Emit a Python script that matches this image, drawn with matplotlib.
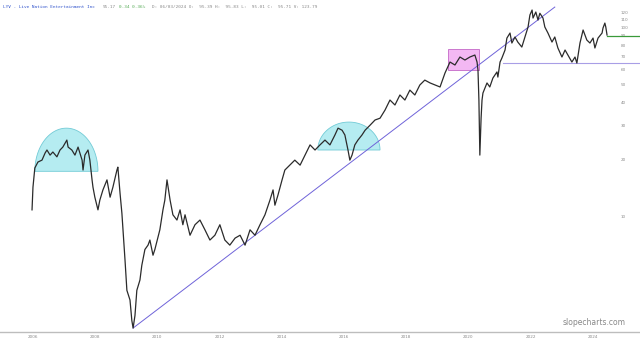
"""
LYV - Live Nation Entertainment, log price chart with trendline and highlight shapes
"""
import numpy as np
import matplotlib
matplotlib.use('Agg')
import matplotlib.pyplot as plt
from matplotlib.patches import Rectangle, Polygon

# ── data (decimal year, price) ──────────────────────────────────────────────
years = [2005.97, 2006.00, 2006.06, 2006.16, 2006.29, 2006.39, 2006.45, 2006.55, 2006.64,
         2006.77, 2006.87, 2006.96, 2007.09, 2007.13, 2007.25, 2007.35, 2007.45, 2007.58,
         2007.61, 2007.67, 2007.77, 2007.83, 2007.90, 2007.93, 2007.99, 2008.09, 2008.15,
         2008.25, 2008.38, 2008.48, 2008.57, 2008.70, 2008.73, 2008.80, 2008.86, 2008.96,
         2009.02, 2009.12, 2009.18, 2009.22, 2009.28, 2009.34, 2009.44, 2009.50, 2009.60,
         2009.70, 2009.76, 2009.86, 2009.92, 2010.08, 2010.18, 2010.24, 2010.31, 2010.41,
         2010.50, 2010.63, 2010.73, 2010.82, 2010.89, 2011.05, 2011.21, 2011.37, 2011.53,
         2011.69, 2011.85, 2012.01, 2012.17, 2012.33, 2012.50, 2012.66, 2012.82, 2012.98,
         2013.14, 2013.30, 2013.46, 2013.62, 2013.72, 2013.78, 2013.88, 2014.01, 2014.10,
         2014.26, 2014.42, 2014.59, 2014.75, 2014.91, 2015.07, 2015.23, 2015.39, 2015.55,
         2015.71, 2015.81, 2015.94, 2016.03, 2016.13, 2016.19, 2016.26, 2016.35, 2016.45,
         2016.58, 2016.68, 2016.84, 2017.00, 2017.16, 2017.32, 2017.48, 2017.64, 2017.80,
         2017.96, 2018.12, 2018.28, 2018.44, 2018.60, 2018.77, 2019.09, 2019.25, 2019.41,
         2019.57, 2019.73, 2019.89, 2020.05, 2020.21, 2020.28, 2020.31, 2020.34, 2020.37,
         2020.41, 2020.44, 2020.47, 2020.60, 2020.69, 2020.79, 2020.92, 2020.95, 2021.02,
         2021.08, 2021.18, 2021.24, 2021.34, 2021.40, 2021.50, 2021.59, 2021.72, 2021.82,
         2021.92, 2021.98, 2022.05, 2022.08, 2022.17, 2022.24, 2022.30, 2022.40, 2022.46,
         2022.56, 2022.69, 2022.78, 2022.88, 2023.01, 2023.11, 2023.20, 2023.33, 2023.43,
         2023.49, 2023.59, 2023.69, 2023.81, 2023.91, 2024.01, 2024.07, 2024.17, 2024.30,
         2024.33, 2024.39, 2024.42, 2024.46]
prices = [10.78, 14.20, 17.97, 19.32, 19.77, 21.56, 22.37, 21.02, 21.83,
          20.58, 22.37, 23.18, 25.25, 23.18, 22.37, 21.02, 23.18, 19.77,
          17.52, 21.02, 22.37, 19.77, 15.54, 14.20, 12.58, 10.78, 12.13,
          13.75, 15.54, 12.58, 14.20, 17.52, 18.15, 13.21, 10.33, 5.84,
          4.04, 3.59, 2.79, 2.55, 2.97, 4.04, 4.58, 5.48, 6.65,
          7.01, 7.46, 6.20, 6.65, 8.45, 10.78, 12.13, 15.54, 12.13,
          10.15, 9.52, 10.78, 8.99, 10.15, 7.91, 8.99, 9.52, 8.45,
          7.46, 7.91, 8.99, 7.46, 7.01, 7.64, 7.91, 7.01, 8.45,
          7.91, 8.99, 10.15, 12.13, 13.75, 11.41, 12.94, 15.54, 17.52,
          18.60, 19.77, 18.60, 21.02, 23.81, 22.37, 23.81, 25.25, 23.81,
          26.87, 29.20, 28.48, 26.87, 22.37, 19.77, 21.02, 23.81, 25.25,
          26.87, 28.48, 30.28, 32.26, 32.97, 36.39, 41.15, 38.73, 43.76,
          41.15, 46.45, 43.76, 49.42, 52.47, 50.68, 48.25, 57.24, 65.41,
          63.08, 69.54, 67.03, 69.54, 71.25, 65.41, 59.30, 41.15, 21.02,
          32.97, 41.15, 44.84, 50.68, 48.25, 53.82, 57.95, 54.45, 65.41,
          68.74, 75.74, 87.60, 93.17, 82.48, 88.77, 83.47, 78.53, 88.77,
          100.27, 116.09, 123.36, 111.86, 120.40, 109.17, 118.60, 111.86, 100.27,
          93.17, 83.47, 88.77, 77.63, 69.54, 75.74, 71.25, 65.41, 69.54,
          64.60, 82.48, 96.68, 85.54, 82.48, 87.60, 77.63, 87.60, 93.17,
          99.01, 105.21, 100.27, 90.93]

# trendline from the 2009 low, support line, last close
trend_years = [2009.22, 2022.78]
trend_prices = [2.55, 127.9]
support_start, support_price = 2021.11, 64.6
last_year, last_price = 2024.46, 90.0

# highlighted zones: (start year, end year, base price, top price)
domes = [(2006.06, 2008.09, 17.25, 29.2),
         (2015.16, 2017.16, 22.37, 31.45)]
box_zone = (2019.34, 2020.34, 59.3, 76.64)

tick_years = [2006, 2008, 2010, 2012, 2014, 2016, 2018, 2020, 2022, 2024]
price_ticks = [10, 20, 30, 40, 50, 60, 70, 80, 90, 100, 110, 120]

XMIN, XMAX = 2004.94, 2025.52
YMIN, YMAX = 2.43, 139.4

C_PRICE = '#2b2b2b'
C_TREND = '#6f63d9'
C_SUPPORT = '#a89ee6'
C_LAST = '#3a9a3a'
C_DOME_FILL = '#b5ecf1'
C_DOME_EDGE = '#72cbd6'
C_BOX_FILL = '#f3b8f3'
C_BOX_EDGE = '#c468c8'
C_TEXT = '#8a8a8a'

fig = plt.figure(figsize=(6.4, 3.43), dpi=100)
fig.patch.set_facecolor('white')
ax = fig.add_axes([0, 11 / 343, 1, 332 / 343])
ax.set_xlim(XMIN, XMAX)
ax.set_yscale('log')
ax.set_ylim(YMIN, YMAX)


def to_axes(year, price):
    fx = (year - XMIN) / (XMAX - XMIN)
    fy = (np.log(price) - np.log(YMIN)) / (np.log(YMAX) - np.log(YMIN))
    return fx, fy


# domes (half ellipses in screen space)
for y0, y1, pbase, ptop in domes:
    x0f, byf = to_axes(y0, pbase)
    x1f, tyf = to_axes(y1, ptop)
    cx, rx, ry = (x0f + x1f) / 2, (x1f - x0f) / 2, tyf - byf
    t = np.linspace(0, np.pi, 80)
    pts = np.column_stack([cx + rx * np.cos(t), byf + ry * np.sin(t)])
    ax.add_patch(Polygon(pts, closed=True, transform=ax.transAxes,
                         facecolor=C_DOME_FILL, edgecolor=C_DOME_EDGE, lw=0.6, zorder=1))

bx0, bx1, bp0, bp1 = box_zone
ax.add_patch(Rectangle((bx0, bp0), bx1 - bx0, bp1 - bp0,
                       facecolor=C_BOX_FILL, edgecolor=C_BOX_EDGE, lw=0.6, zorder=1))

ax.plot(trend_years, trend_prices, color=C_TREND, lw=0.7, zorder=2)
ax.plot([support_start, XMAX], [support_price, support_price], color=C_SUPPORT, lw=0.8, zorder=2)
ax.plot([last_year, XMAX], [last_price, last_price], color=C_LAST, lw=0.9, zorder=2)

ax.plot(years, prices, color=C_PRICE, lw=0.9, zorder=3)

# axes styling
for s in ['top', 'left', 'right']:
    ax.spines[s].set_visible(False)
ax.spines['bottom'].set_color('#bdbdbd')
ax.spines['bottom'].set_linewidth(1.0)

ax.set_xticks(tick_years)
ax.set_xticklabels([str(y) for y in tick_years])
ax.tick_params(axis='x', length=0, pad=2, labelsize=3, labelcolor=C_TEXT)

ax.yaxis.tick_right()
ax.set_yticks(price_ticks)
ax.set_yticklabels([str(p) for p in price_ticks])
ax.yaxis.set_minor_locator(matplotlib.ticker.NullLocator())
ax.tick_params(axis='y', length=0, pad=-14, labelsize=3, labelcolor=C_TEXT)

# header
ax.text(0.005, 0.985, 'LYV - Live Nation Entertainment Inc', transform=ax.transAxes,
        fontsize=3.2, family='DejaVu Sans Mono', color='#3355cc', va='top', ha='left')
ax.text(0.160, 0.985, '95.17', transform=ax.transAxes, fontsize=3.2,
        family='DejaVu Sans Mono', color=C_TEXT, va='top')
ax.text(0.186, 0.985, '0.34 0.36%', transform=ax.transAxes, fontsize=3.2,
        family='DejaVu Sans Mono', color='#55aa55', va='top')
ax.text(0.238, 0.985, 'D: 06/03/2024 O:  95.39 H:  95.83 L:  95.01 C:  95.71 V: 123.79',
        transform=ax.transAxes, fontsize=3.2, family='DejaVu Sans Mono',
        color=C_TEXT, va='top')

ax.text(0.977, 0.015, 'slopecharts.com', transform=ax.transAxes, fontsize=5.5,
        color='#888888', ha='right', va='bottom')

fig.savefig('out.png', dpi=100, facecolor='white')
